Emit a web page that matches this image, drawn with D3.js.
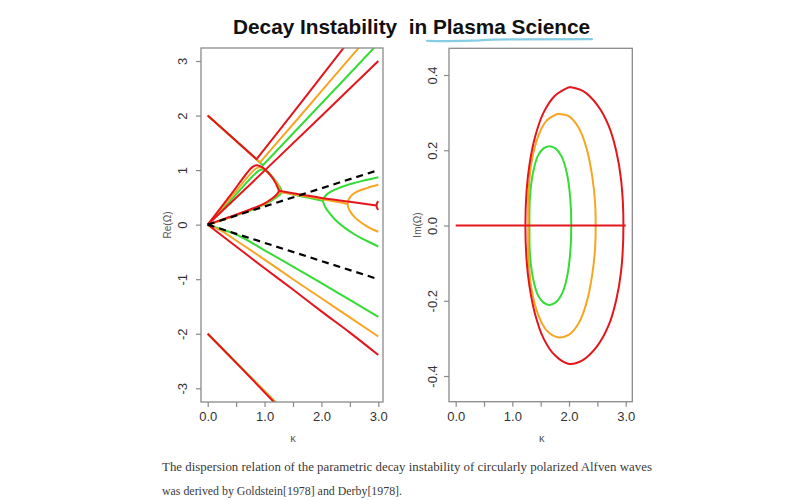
<!DOCTYPE html>
<html>
<head>
<meta charset="utf-8">
<script src="https://cdn.jsdelivr.net/npm/d3@7"></script>
<style>
  body { margin: 0; background: #fff; }
  svg { display: block; }
</style>
</head>
<body>
<script>
// tick values
var kTicks = [0, 0.5, 1, 1.5, 2, 2.5, 3];
var reTicks = [-3, -2, -1, 0, 1, 2, 3];
var imTicks = [-0.4, -0.2, 0, 0.2, 0.4];

// ---- left panel: Re(Omega) vs k ----
// branch coming down from Re=2, bending up after the crossing
var greenUpper  = [[0,2],[0.97,1.09],[1.3,1.45],[1.8,2.0],[2.4,2.66],[2.96,3.28]];
var orangeUpper = [[0,2],[0.92,1.14],[1.2,1.48],[1.6,1.96],[2.2,2.69],[2.68,3.27]];
var redUpper    = [[0,2],[0.86,1.2],[1.2,1.65],[1.6,2.18],[2.0,2.72],[2.42,3.28]];
// slope-one line
var redDiag = [[0,0],[1,0.99],[2,1.99],[3,3.0]];
// loop from the origin up to the crossing, round the nose and back
var greenLoop  = [[0,0],[0.4,0.44],[0.9,0.99],[0.98,1.01],[1.07,0.95],[1.16,0.85],[1.23,0.75],[1.28,0.67],[1.3,0.61],[1.27,0.55],[1.15,0.46],[1.0,0.37],[0.8,0.28],[0.55,0.19],[0.3,0.1],[0,0]];
var orangeLoop = [[0,0],[0.4,0.49],[0.84,1.02],[0.92,1.05],[1.01,1.0],[1.11,0.9],[1.19,0.79],[1.25,0.69],[1.27,0.62],[1.24,0.56],[1.13,0.47],[1.0,0.38],[0.8,0.29],[0.55,0.2],[0.3,0.1],[0,0]];
var redLoop    = [[0,0],[0.4,0.54],[0.78,1.05],[0.86,1.09],[0.95,1.06],[1.05,0.97],[1.13,0.87],[1.19,0.77],[1.23,0.68],[1.25,0.62],[1.22,0.56],[1.12,0.47],[1.0,0.39],[0.8,0.3],[0.55,0.2],[0.3,0.11],[0,0]];
// real part of the unstable pair
var greenMid  = [[1.3,0.6],[1.6,0.53],[2.03,0.44]];
var orangeMid = [[1.27,0.6],[1.6,0.54],[2.0,0.47],[2.46,0.38]];
var redMid    = [[1.25,0.62],[1.5,0.575],[2.0,0.49],[2.5,0.42],[2.97,0.35]];
// where the pair turns real again
var greenFork  = [[3.0,0.87],[2.6,0.77],[2.3,0.67],[2.1,0.56],[2.03,0.44],[2.08,0.3],[2.15,0.2],[2.25,0.08],[2.4,-0.05],[2.6,-0.19],[2.8,-0.3],[3.0,-0.4]];
var orangeFork = [[3.0,0.73],[2.8,0.67],[2.6,0.59],[2.5,0.5],[2.46,0.38],[2.5,0.25],[2.6,0.12],[2.8,-0.03],[3.0,-0.13]];
var redFork    = [[3.0,0.43],[2.975,0.39],[2.97,0.35],[2.975,0.31],[3.0,0.27]];
// lower fan
var greenLow  = [[0,0],[0.25,-0.085],[0.5,-0.18],[1,-0.47],[1.5,-0.77],[2,-1.07],[2.5,-1.38],[3,-1.69]];
var orangeLow = [[0,0],[0.25,-0.12],[0.5,-0.29],[1,-0.64],[1.5,-1.0],[2,-1.35],[2.5,-1.7],[3,-2.05]];
var redLow    = [[0,0],[0.5,-0.4],[1,-0.8],[1.5,-1.19],[2,-1.59],[2.5,-1.98],[3,-2.39]];
// line from Re=-2
var greenBottom  = [[0,-2],[0.6,-2.63],[1.22,-3.28]];
var orangeBottom = [[0,-2],[0.6,-2.635],[1.21,-3.28]];
var redBottom    = [[0,-2],[0.6,-2.64],[1.19,-3.28]];
// sound lines
var dashUp   = [[0,0],[3,1]];
var dashDown = [[0,0],[3,-1]];

// ---- right panel: Im(Omega) vs k (upper and lower halves) ----
var zeroLine = [[0,0],[3,0]];
var greenImUp  = [[1.3,0],[1.31,0.075],[1.36,0.137],[1.45,0.185],[1.55,0.205],[1.65,0.211],[1.76,0.205],[1.87,0.183],[1.96,0.14],[2.02,0.075],[2.04,0]];
var greenImLo  = [[1.3,0],[1.31,-0.075],[1.36,-0.137],[1.45,-0.185],[1.55,-0.205],[1.65,-0.211],[1.76,-0.205],[1.87,-0.183],[1.96,-0.14],[2.02,-0.075],[2.04,0]];
var orangeImUp = [[1.28,0],[1.29,0.1],[1.34,0.17],[1.45,0.235],[1.6,0.278],[1.8,0.297],[2.0,0.29],[2.17,0.26],[2.31,0.205],[2.41,0.13],[2.46,0.06],[2.47,0]];
var orangeImLo = [[1.28,0],[1.29,-0.1],[1.34,-0.17],[1.45,-0.235],[1.6,-0.278],[1.8,-0.297],[2.0,-0.29],[2.17,-0.26],[2.31,-0.205],[2.41,-0.13],[2.46,-0.06],[2.47,0]];
var redImUp    = [[1.23,0],[1.25,0.09],[1.3,0.16],[1.4,0.235],[1.55,0.3],[1.75,0.345],[2.0,0.368],[2.25,0.357],[2.5,0.32],[2.7,0.265],[2.83,0.2],[2.92,0.12],[2.96,0]];
var redImLo    = [[1.23,0],[1.25,-0.09],[1.3,-0.16],[1.4,-0.235],[1.55,-0.3],[1.75,-0.345],[2.0,-0.368],[2.25,-0.357],[2.5,-0.32],[2.7,-0.265],[2.83,-0.2],[2.92,-0.12],[2.96,0]];

var GREEN = "#35dc35", ORANGE = "#f6a623", RED = "#e4161c";

var width = 800,
    height = 500;

var svg = d3.select("body").append("svg")
    .attr("width", width)
    .attr("height", height);

var sans = "'Liberation Sans', Arial, sans-serif";
var hyphen = function(f) { return function(d) { return f(d).replace("\u2212", "-"); }; };

// title + hand-drawn underline
svg.append("text")
    .attr("x", 233).attr("y", 34)
    .style("font", "bold 20.8px " + sans)
    .style("white-space", "pre")
    .attr("fill", "#111")
    .text("Decay Instability  in Plasma Science");
svg.append("path")
    .attr("d", "M427,40.8 C445,41.2 465,41.0 480,40.4 C486,39.6 500,39.4 520,39.4 L592,39.2")
    .attr("fill", "none")
    .attr("stroke", "#84cde4")
    .attr("stroke-width", 2.2)
    .attr("stroke-linecap", "round");

// outline starting at the top: upper half from its peak to the right end,
// lower half right->left, upper half from the left end back to the peak
function ring(up, lo) {
  var top = d3.maxIndex(up, function(d) { return d[1]; });
  return up.slice(top).concat(lo.slice(1, -1).reverse(), up.slice(0, top + 1));
}

function panel(id, box, x, y, yTicks, yFmt, yTitle, labelOff, series) {
  var g = svg.append("g");
  g.append("clipPath").attr("id", id)
    .append("rect")
    .attr("x", box.x0).attr("y", box.y0)
    .attr("width", box.x1 - box.x0).attr("height", box.y1 - box.y0);

  var plot = g.append("g").attr("clip-path", "url(#" + id + ")");

  series.forEach(function(s) {
    var line = d3.line()
        .x(function(d) { return x(d[0]); })
        .y(function(d) { return y(d[1]); })
        .curve(s.curve || d3.curveLinear);
    plot.append("path")
        .attr("d", line(s.data))
        .attr("fill", "none")
        .attr("stroke", s.color)
        .attr("stroke-width", s.dash ? 2.2 : 2)
        .attr("stroke-dasharray", s.dash || null)
        .attr("stroke-linejoin", "round");
  });

  g.append("rect")
      .attr("x", box.x0).attr("y", box.y0)
      .attr("width", box.x1 - box.x0).attr("height", box.y1 - box.y0)
      .attr("fill", "none").attr("stroke", "#8a8a8a").attr("stroke-width", 1.3);

  // x axis
  var xa = g.append("g")
      .attr("transform", "translate(0," + box.y1 + ")")
      .call(d3.axisBottom(x).tickValues(kTicks).tickSize(5)
        .tickFormat(function(d) { return Number.isInteger(d) ? d.toFixed(1) : ""; }));
  xa.select(".domain").remove();
  xa.selectAll("line").attr("stroke", "#8a8a8a").attr("stroke-width", 1.2);
  xa.selectAll("text").attr("y", 10).attr("dy", "0.71em")
      .attr("fill", "#333").style("font", "13px " + sans);

  // y axis, labels parallel to the axis
  var ya = g.append("g")
      .attr("transform", "translate(" + box.x0 + ",0)")
      .call(d3.axisLeft(y).tickValues(yTicks).tickSize(5).tickFormat(hyphen(yFmt)));
  ya.select(".domain").remove();
  ya.selectAll("line").attr("stroke", "#8a8a8a").attr("stroke-width", 1.2);
  ya.selectAll("text")
      .attr("x", 0).attr("dy", 0)
      .attr("text-anchor", "middle")
      .attr("transform", "translate(" + (-labelOff) + ",0) rotate(-90)")
      .attr("fill", "#333").style("font", "13px " + sans);

  // axis titles
  g.append("text")
      .attr("transform", "translate(" + (box.x0 - labelOff - 16) + "," + ((box.y0 + box.y1) / 2) + ") rotate(-90)")
      .attr("text-anchor", "middle")
      .attr("fill", "#555").style("font", "10px " + sans)
      .text(yTitle);
  g.append("text")
      .attr("x", (box.x0 + box.x1) / 2 + 1).attr("y", box.y1 + 40)
      .attr("text-anchor", "middle")
      .attr("fill", "#555").style("font", "11px " + sans)
      .text("κ");
}

var smooth = d3.curveCatmullRom.alpha(0.5);
var mono = d3.curveMonotoneX;

// left panel
var boxL = {x0: 201, x1: 383, y0: 48, y1: 402};
var xL = d3.scaleLinear().domain([0, 3]).range([207.7, 378.3]);
var yL = d3.scaleLinear().domain([-3, 3]).range([388.3, 61.0]);

panel("clipL", boxL, xL, yL, reTicks, d3.format("d"), "Re(Ω)", 14.3, [
  {data: greenUpper, color: GREEN}, {data: greenLoop, color: GREEN, curve: smooth}, {data: greenMid, color: GREEN, curve: mono},
  {data: greenFork, color: GREEN, curve: smooth}, {data: greenLow, color: GREEN, curve: mono}, {data: greenBottom, color: GREEN},
  {data: orangeUpper, color: ORANGE}, {data: orangeLoop, color: ORANGE, curve: smooth}, {data: orangeMid, color: ORANGE, curve: mono},
  {data: orangeFork, color: ORANGE, curve: smooth}, {data: orangeLow, color: ORANGE, curve: mono}, {data: orangeBottom, color: ORANGE},
  {data: redUpper, color: RED}, {data: redDiag, color: RED}, {data: redLoop, color: RED, curve: smooth}, {data: redMid, color: RED, curve: mono},
  {data: redFork, color: RED, curve: smooth}, {data: redLow, color: RED, curve: mono}, {data: redBottom, color: RED},
  {data: dashUp, color: "#000", dash: "7,5"}, {data: dashDown, color: "#000", dash: "7,5"}
]);

// right panel
var boxR = {x0: 449, x1: 632.3, y0: 48.3, y1: 401.7};
var xR = d3.scaleLinear().domain([0, 3]).range([455.7, 625.7]);
var yR = d3.scaleLinear().domain([-0.4, 0.4]).range([376, 75]);

panel("clipR", boxR, xR, yR, imTicks, d3.format(".1f"), "Im(Ω)", 12.3, [
  {data: ring(greenImUp, greenImLo), color: GREEN, curve: smooth},
  {data: ring(orangeImUp, orangeImLo), color: ORANGE, curve: smooth},
  {data: ring(redImUp, redImLo), color: RED, curve: smooth},
  {data: zeroLine, color: RED}
]);

// caption
var serif = "'Liberation Serif', 'Times New Roman', serif";
svg.append("text")
    .attr("x", 162).attr("y", 471)
    .attr("textLength", 490).attr("lengthAdjust", "spacingAndGlyphs")
    .attr("fill", "#3a3a3a").style("font", "13px " + serif)
    .text("The dispersion relation of the parametric decay instability of circularly polarized Alfven waves");
svg.append("text")
    .attr("x", 162).attr("y", 494.5)
    .attr("textLength", 240).attr("lengthAdjust", "spacingAndGlyphs")
    .attr("fill", "#3a3a3a").style("font", "13px " + serif)
    .text("was derived by Goldstein[1978] and Derby[1978].");
</script>
</body>
</html>
